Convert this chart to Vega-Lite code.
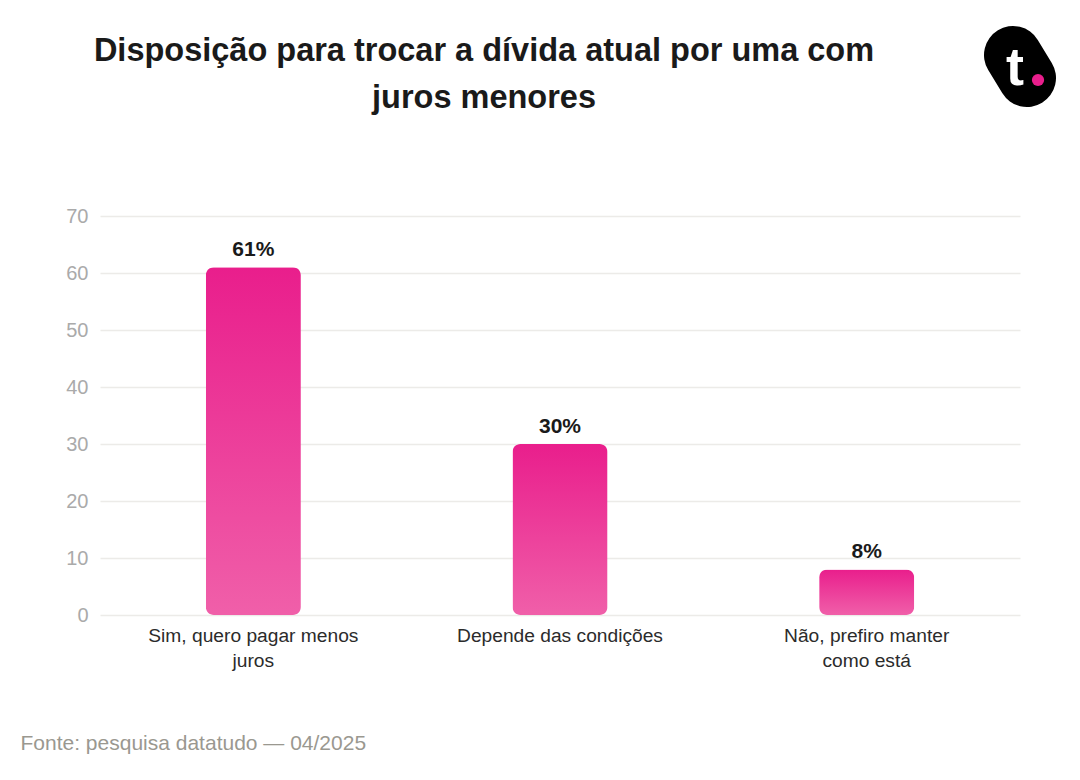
{
  "$schema": "https://vega.github.io/schema/vega-lite/v6.json",
  "autosize": {"type": "none"},
  "width": 920,
  "height": 399,
  "padding": {"left": 100, "top": 216, "right": 60, "bottom": 165},
  "background": "#ffffff",
  "title": {
    "text": ["Disposição para trocar a dívida atual por uma com", "juros menores"],
    "font": "Liberation Sans",
    "fontSize": 32.5,
    "fontWeight": "bold",
    "color": "#1a1a1a",
    "lineHeight": 47,
    "anchor": "middle",
    "dx": -76,
    "offset": -88
  },
  "data": {
    "values": [
      {"resposta": "Sim, quero pagar menos juros", "pct": 61},
      {"resposta": "Depende das condições", "pct": 30},
      {"resposta": "Não, prefiro manter como está", "pct": 8}
    ]
  },
  "layer": [
    {
      "mark": {
        "type": "bar",
        "cornerRadius": 8,
        "color": {
          "gradient": "linear",
          "x1": 0, "y1": 0, "x2": 0, "y2": 1,
          "stops": [
            {"offset": 0, "color": "#E91E8C"},
            {"offset": 1, "color": "#F05FA9"}
          ]
        }
      },
      "encoding": {
        "x": {
          "field": "resposta",
          "type": "nominal",
          "sort": null,
          "scale": {"paddingInner": 0.69, "paddingOuter": 0.345},
          "axis": {
            "title": "Fonte: pesquisa datatudo — 04/2025",
            "titleFont": "Liberation Sans",
            "titleFontSize": 21,
            "titleFontWeight": "normal",
            "titleColor": "#9a9890",
            "titleAnchor": "start",
            "titleAlign": "left",
            "titleBaseline": "alphabetic",
            "titleX": -80,
            "titleY": 134,
            "labelAngle": 0,
            "labelFont": "Liberation Sans",
            "labelFontSize": 19.2,
            "labelColor": "#2b2b2b",
            "labelPadding": 11,
            "labelLineHeight": 25,
            "labelLimit": 400,
            "labelExpr": "datum.label == 'Sim, quero pagar menos juros' ? ['Sim, quero pagar menos', 'juros'] : datum.label == 'Não, prefiro manter como está' ? ['Não, prefiro manter', 'como está'] : datum.label",
            "domain": false,
            "ticks": false
          }
        },
        "y": {
          "field": "pct",
          "type": "quantitative",
          "scale": {"domain": [0, 70]},
          "axis": {
            "title": null,
            "values": [0, 10, 20, 30, 40, 50, 60, 70],
            "labelFont": "Liberation Sans",
            "labelFontSize": 20,
            "labelColor": "#aaaaaa",
            "labelPadding": 12,
            "domain": false,
            "ticks": false,
            "grid": true,
            "gridColor": "#ecebe8",
            "gridWidth": 1.5
          }
        }
      }
    },
    {
      "transform": [{"calculate": "datum.pct + '%'", "as": "rotulo"}],
      "mark": {
        "type": "text",
        "baseline": "bottom",
        "dy": -7,
        "font": "Liberation Sans",
        "fontSize": 21,
        "fontWeight": "bold",
        "color": "#1a1a1a"
      },
      "encoding": {
        "x": {"field": "resposta", "type": "nominal", "sort": null},
        "y": {"field": "pct", "type": "quantitative"},
        "text": {"field": "rotulo", "type": "nominal"}
      }
    },
    {
      "data": {"values": [{"logo": "t"}]},
      "mark": {"type": "rule", "color": "#000000", "strokeWidth": 58, "strokeCap": "round"},
      "encoding": {
        "x": {"value": 913},
        "y": {"value": -161},
        "x2": {"value": 927},
        "y2": {"value": -138}
      }
    },
    {
      "data": {"values": [{"logo": "t"}]},
      "mark": {
        "type": "text",
        "font": "Liberation Sans",
        "fontSize": 54,
        "fontWeight": "bold",
        "color": "#ffffff",
        "baseline": "middle",
        "align": "center"
      },
      "encoding": {
        "x": {"value": 915},
        "y": {"value": -147},
        "text": {"field": "logo"}
      }
    },
    {
      "data": {"values": [{"logo": "t"}]},
      "mark": {"type": "point", "filled": true, "opacity": 1, "color": "#E91E8C", "size": 150},
      "encoding": {
        "x": {"value": 938},
        "y": {"value": -136}
      }
    }
  ],
  "config": {
    "view": {"stroke": null},
    "font": "Liberation Sans"
  }
}
